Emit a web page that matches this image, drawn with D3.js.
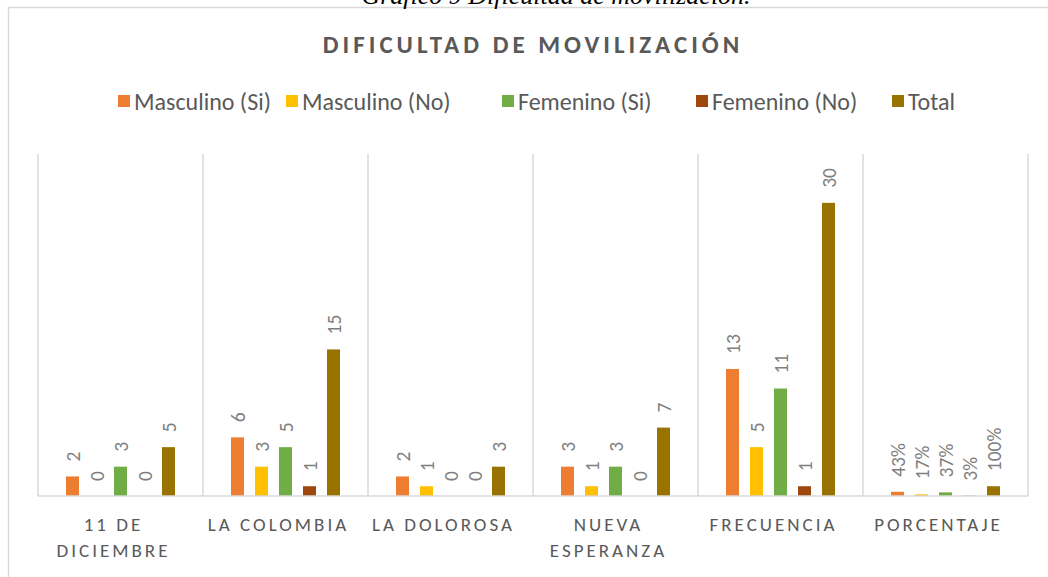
<!DOCTYPE html>
<html>
<head>
<meta charset="utf-8">
<title>Dificultad de movilización</title>
<script src="https://cdn.jsdelivr.net/npm/d3@7/dist/d3.min.js"></script>
<style>
body{
    margin:0;
    background:#fff;
}
svg text{
    font-family:Carlito, "Open Sans", sans-serif;
}
</style>
</head>
<body>
<svg id="chart" width="1048" height="577"></svg>
<script>
// categorias y series
var categorias = ["11 DE DICIEMBRE", "LA COLOMBIA", "LA DOLOROSA", "NUEVA ESPERANZA", "FRECUENCIA", "PORCENTAJE"];
var etiquetasX = [["11 DE", "DICIEMBRE"], ["LA COLOMBIA"], ["LA DOLOROSA"], ["NUEVA", "ESPERANZA"], ["FRECUENCIA"], ["PORCENTAJE"]];
var series = ["Masculino (Si)", "Masculino (No)", "Femenino (Si)", "Femenino (No)", "Total"];
var colores = ["#ED7D31", "#FFC000", "#70AD47", "#9E480E", "#997300"];

var masculinoSi = [2, 6, 2, 3, 13, 0.43];
var masculinoNo = [0, 3, 1, 1, 5, 0.17];
var femeninoSi  = [3, 5, 0, 3, 11, 0.37];
var femeninoNo  = [0, 1, 0, 0, 1, 0.03];
var total       = [5, 15, 3, 7, 30, 1];
var valores = [masculinoSi, masculinoNo, femeninoSi, femeninoNo, total];

var svg = d3.select("#chart");

// marco del grafico
svg.append("rect")
    .attr("x", 8.5).attr("y", 7.5)
    .attr("width", 1100).attr("height", 600)
    .attr("fill", "#fff")
    .attr("stroke", "#d9d9d9")
    .attr("stroke-width", 1.5);

// pie de figura (queda cortado arriba, como en el original)
svg.append("text")
    .attr("x", 556).attr("y", 4)
    .attr("text-anchor", "middle")
    .style("font-family", "'Liberation Serif', serif")
    .style("font-style", "italic")
    .style("font-size", "26px")
    .attr("fill", "#000")
    .text("Gráfico 9 Dificultad de movilización.");

svg.append("text")
    .attr("x", 533).attr("y", 53)
    .attr("text-anchor", "middle")
    .style("font-size", "25px")
    .style("font-weight", "bold")
    .style("letter-spacing", "4px")
    .attr("fill", "#595959")
    .text("DIFICULTAD DE MOVILIZACIÓN");

// leyenda
var legendX = [118, 286, 502, 696, 892];
var leyenda = svg.append("g");
series.forEach(function(s, i){
    var g = leyenda.append("g").attr("transform", "translate(" + legendX[i] + ",101)");
    g.append("rect").attr("x", 0).attr("y", -6).attr("width", 12).attr("height", 12).attr("fill", colores[i]);
    g.append("text").attr("x", 16).attr("y", 0)
        .attr("dominant-baseline", "central")
        .style("font-size", "24px")
        .attr("fill", "#595959")
        .text(s);
});

var x0 = d3.scaleBand().domain(categorias).range([38, 1028]).paddingInner(0).paddingOuter(0);
var x1 = d3.scaleBand().domain(series).range([-60, 60]);
var y = d3.scaleLinear().domain([0, 35]).range([496, 154]);
var barW = 13;

var fmtNum = d3.format("d");
var fmtPct = d3.format(".0%");

// lineas verticales entre categorias
var bordes = categorias.map(function(c){ return x0(c); }).concat([x0.range()[1]]);
svg.append("g").selectAll("line").data(bordes).enter().append("line")
    .attr("x1", function(d){ return d; }).attr("x2", function(d){ return d; })
    .attr("y1", y(35)).attr("y2", y(0))
    .attr("stroke", "#d9d9d9").attr("stroke-width", 1.5);

// barras
var grupos = svg.append("g").selectAll("g").data(categorias).enter().append("g")
    .attr("transform", function(c){ return "translate(" + (x0(c) + x0.bandwidth() / 2) + ",0)"; });

grupos.each(function(c, ci){
    var g = d3.select(this);
    var datos = series.map(function(s, si){ return {serie: s, v: valores[si][ci], color: colores[si]}; });
    g.selectAll("rect").data(datos).enter().append("rect")
        .attr("x", function(d){ return x1(d.serie) + x1.bandwidth() / 2 - barW / 2; })
        .attr("y", function(d){ return y(d.v); })
        .attr("width", barW)
        .attr("height", function(d){ return y(0) - y(d.v); })
        .attr("fill", function(d){ return d.color; });
    g.selectAll("text").data(datos).enter().append("text")
        .attr("transform", function(d){
            return "translate(" + (x1(d.serie) + x1.bandwidth() / 2) + "," + (y(d.v) - 15) + ") rotate(-90)";
        })
        .attr("dominant-baseline", "central")
        .style("font-size", "19.5px")
        .attr("fill", "#7f7f7f")
        .text(function(d){ return c == "PORCENTAJE" ? fmtPct(d.v) : fmtNum(d.v); });
});

// eje x
svg.append("line")
    .attr("x1", 38).attr("x2", 1028)
    .attr("y1", y(0)).attr("y2", y(0))
    .attr("stroke", "#d9d9d9").attr("stroke-width", 1.5);

var ejeX = svg.append("g").selectAll("text").data(categorias).enter().append("text")
    .attr("y", 531)
    .attr("text-anchor", "middle")
    .style("font-size", "19px")
    .style("letter-spacing", "3px")
    .attr("fill", "#595959");
ejeX.each(function(c, i){
    var t = d3.select(this);
    etiquetasX[i].forEach(function(linea, k){
        t.append("tspan")
            .attr("x", x0(c) + x0.bandwidth() / 2 - 7)
            .attr("dy", k == 0 ? 0 : 26)
            .text(linea);
    });
});
</script>
</body>
</html>
